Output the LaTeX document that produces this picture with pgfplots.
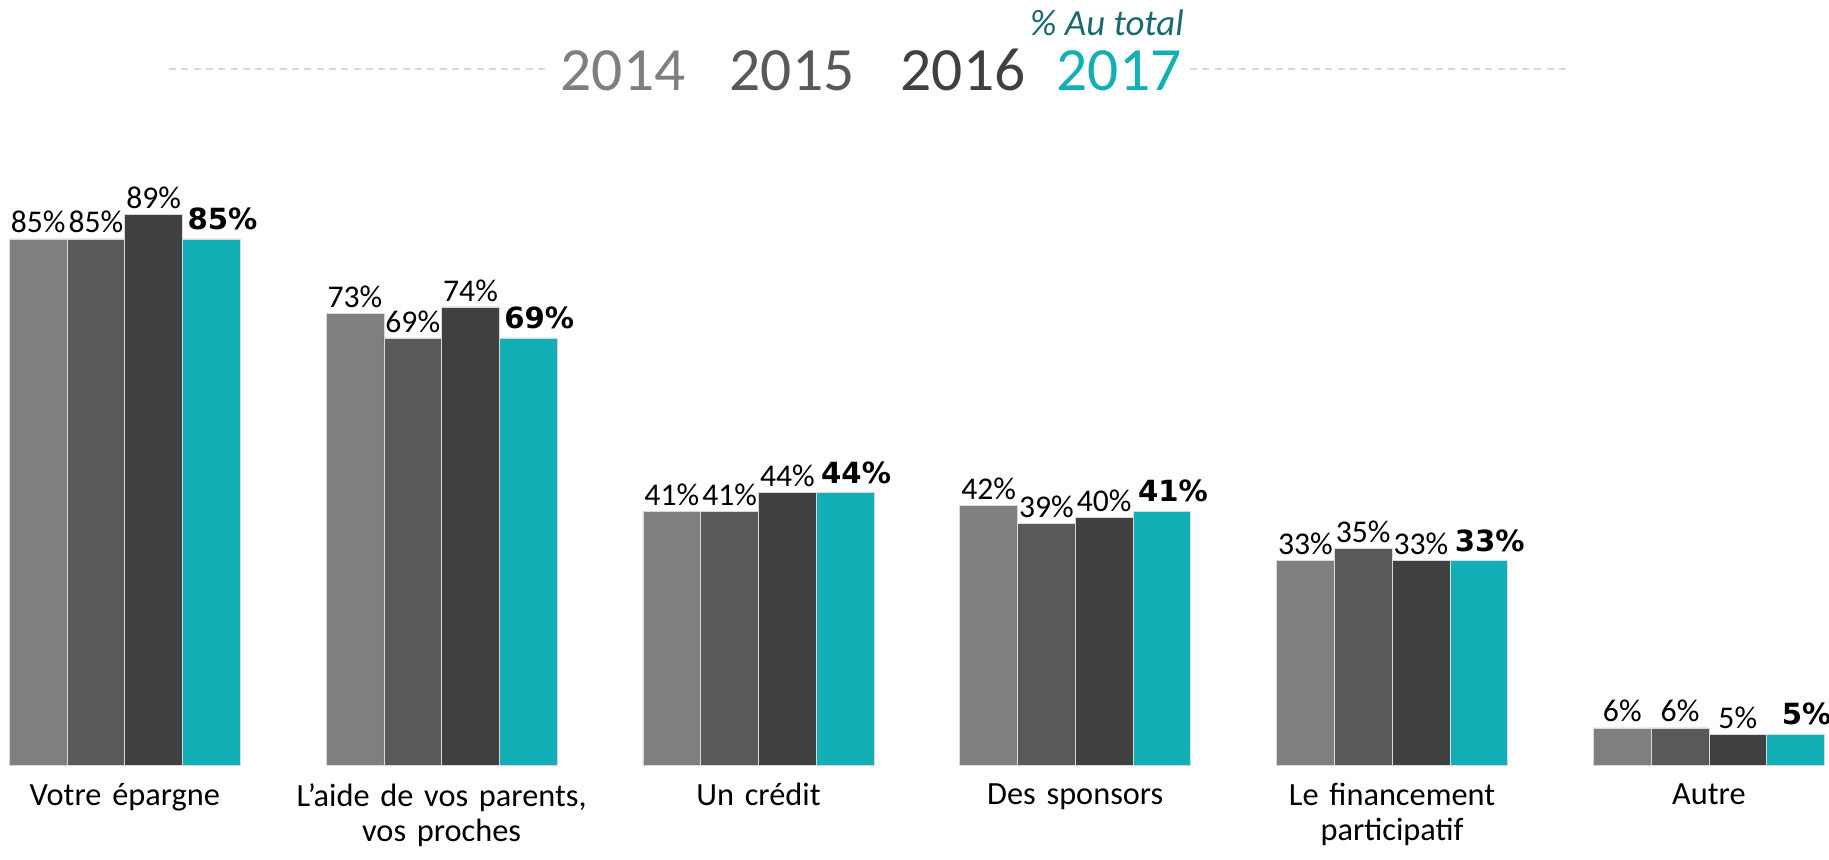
\documentclass[border=0pt]{standalone}
\usepackage{pgfplots}
\usepackage{pgfplotstable}
\pgfplotsset{compat=1.18}
\usepackage{fontspec}
\setmainfont{Carlito}
\newfontfamily\dvsans{DejaVu Sans}

\definecolor{c14}{HTML}{7F7F7F}
\definecolor{c15}{HTML}{595959}
\definecolor{c16}{HTML}{404040}
\definecolor{c17}{HTML}{13AFB6}
\definecolor{tealdk}{HTML}{1B6B6E}
\definecolor{dashgray}{HTML}{D9D9D9}

\pgfplotstableread{
x  a14 a15 a16 a17
0  85  85  89  85
1  73  69  74  69
2  41  41  44  44
3  42  39  40  41
4  33  35  33  33
5  6   6   5   5
}\data

\begin{document}
\begin{tikzpicture}
\path[use as bounding box] (0,0) rectangle (18.29,8.59);
\begin{axis}[
  at={(0cm,0.94cm)}, anchor=south west,
  scale only axis,
  width=18.29cm, height=6.19cm,
  xmin=-0.394, xmax=5.379,
  ymin=0, ymax=100,
  ybar=0pt,
  bar width=0.1823,
  axis line style={draw=none},
  major tick length=0pt,
  ytick=\empty,
  xtick={0,...,5},
  xticklabels={Votre épargne,{L'aide de vos parents,\\vos proches},Un crédit,Des sponsors,{Le financement\\participatif},Autre},
  xticklabel style={align=center, text width=4cm, font=\fontsize{9.2}{10}\selectfont, yshift=-0.6mm},
  clip=false,
  /pgf/number format/assume math mode=true,
  nodes near coords={\pgfmathprintnumber[assume math mode=true]{\pgfplotspointmeta}\%},
  every node near coord/.append style={font=\fontsize{9}{10}\selectfont, text=black, inner sep=1.5pt},
]
\addplot[fill=c14, draw=white!85!black, line width=0.2pt] table[x=x, y=a14]{\data};
\addplot[fill=c15, draw=white!85!black, line width=0.2pt] table[x=x, y=a15]{\data};
\addplot[fill=c16, draw=white!85!black, line width=0.2pt] table[x=x, y=a16]{\data};
\addplot[fill=c17, draw=white!85!black, line width=0.2pt,
  every node near coord/.append style={font=\dvsans\bfseries\fontsize{8.3}{9}\selectfont, xshift=1.1mm, inner sep=2.5pt}] table[x=x, y=a17]{\data};
\end{axis}
% header
\draw[dashgray, line width=0.6pt, dash pattern=on 2pt off 1.5pt] (1.69,7.90) -- (5.48,7.90);
\draw[dashgray, line width=0.6pt, dash pattern=on 2pt off 1.5pt] (11.90,7.90) -- (15.69,7.90);
\node[anchor=base, inner sep=0pt, text=c14, font=\fontsize{17.5}{20}\selectfont] at (6.23,7.69) {2014};
\node[anchor=base, inner sep=0pt, text=c15, font=\fontsize{17.5}{20}\selectfont] at (7.92,7.69) {2015};
\node[anchor=base, inner sep=0pt, text=c16, font=\fontsize{17.5}{20}\selectfont] at (9.63,7.69) {2016};
\node[anchor=base, inner sep=0pt, text=c17, font=\fontsize{17.5}{20}\selectfont] at (11.19,7.69) {2017};
\node[anchor=base, inner sep=0pt, text=tealdk, font=\itshape\fontsize{10.5}{12}\selectfont] at (11.07,8.24) {\% Au total};
\end{tikzpicture}
\end{document}
